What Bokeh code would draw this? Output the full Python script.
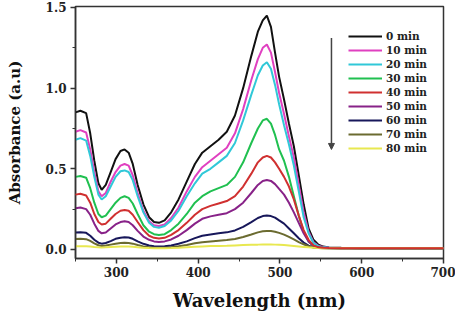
from bokeh.plotting import figure
from bokeh.models import (Range1d, FixedTicker, Legend, LegendItem, Arrow,
                          NormalHead, NumeralTickFormatter)
from bokeh.embed import file_html
from bokeh.resources import INLINE

# ---------------- data ----------------
wavelength = [250, 256, 263, 268, 273, 278, 282, 287, 293, 299,
              305, 310, 315, 320, 326, 333, 340, 346, 352, 359,
              367, 376, 386, 396, 405, 415, 425, 435, 445, 455,
              465, 473, 479, 484, 489, 494, 499, 505, 511, 517,
              523, 529, 535, 541, 547, 553, 560, 575, 600, 650,
              700]

labels = ["0 min", "10 min", "20 min", "30 min", "40 min",
          "50 min", "60 min", "70 min", "80 min"]
colors = ["#111111", "#e040c0", "#30c8d8", "#20c050", "#d03030",
          "#882288", "#17175a", "#6b6b30", "#e8e850"]

a_0min = [0.85, 0.86, 0.845, 0.72, 0.55, 0.41, 0.37, 0.40, 0.48, 0.56,
          0.61, 0.62, 0.60, 0.53, 0.40, 0.28, 0.20, 0.17, 0.165, 0.18,
          0.23, 0.31, 0.42, 0.53, 0.60, 0.64, 0.68, 0.73, 0.83, 1.00,
          1.20, 1.35, 1.42, 1.45, 1.38, 1.22, 1.07, 0.93, 0.78, 0.64,
          0.46, 0.28, 0.13, 0.06, 0.03, 0.018, 0.012, 0.01, 0.008, 0.008,
          0.008]
a_10min = [0.73, 0.74, 0.725, 0.62, 0.48, 0.36, 0.33, 0.35, 0.42, 0.48,
           0.52, 0.53, 0.52, 0.46, 0.35, 0.24, 0.175, 0.15, 0.145, 0.155,
           0.195, 0.26, 0.36, 0.45, 0.51, 0.55, 0.59, 0.63, 0.72, 0.87,
           1.05, 1.18, 1.25, 1.27, 1.22, 1.10, 0.97, 0.84, 0.70, 0.57,
           0.40, 0.23, 0.11, 0.045, 0.022, 0.015, 0.01, 0.009, 0.008, 0.008,
           0.008]
a_20min = [0.68, 0.69, 0.675, 0.58, 0.45, 0.34, 0.31, 0.33, 0.39, 0.45,
           0.485, 0.49, 0.48, 0.43, 0.33, 0.23, 0.165, 0.14, 0.135, 0.145,
           0.18, 0.24, 0.33, 0.41, 0.47, 0.50, 0.54, 0.58, 0.66, 0.80,
           0.96, 1.08, 1.14, 1.16, 1.12, 1.02, 0.90, 0.77, 0.65, 0.52,
           0.36, 0.20, 0.10, 0.04, 0.02, 0.013, 0.01, 0.009, 0.008, 0.008,
           0.008]
a_30min = [0.45, 0.455, 0.445, 0.38, 0.29, 0.22, 0.20, 0.21, 0.25, 0.29,
           0.32, 0.33, 0.32, 0.285, 0.22, 0.15, 0.11, 0.095, 0.09, 0.095,
           0.12, 0.16, 0.22, 0.29, 0.33, 0.36, 0.38, 0.40, 0.45, 0.54,
           0.66, 0.75, 0.80, 0.81, 0.78, 0.71, 0.62, 0.55, 0.45, 0.33,
           0.21, 0.11, 0.05, 0.022, 0.012, 0.01, 0.009, 0.008, 0.008, 0.008,
           0.008]
a_40min = [0.34, 0.345, 0.335, 0.29, 0.22, 0.17, 0.155, 0.16, 0.19, 0.22,
           0.24, 0.245, 0.24, 0.215, 0.17, 0.12, 0.085, 0.072, 0.068, 0.072,
           0.09, 0.12, 0.165, 0.215, 0.25, 0.27, 0.285, 0.30, 0.33, 0.39,
           0.47, 0.54, 0.57, 0.58, 0.57, 0.54, 0.50, 0.45, 0.39, 0.31,
           0.21, 0.12, 0.06, 0.025, 0.013, 0.01, 0.009, 0.008, 0.008, 0.008,
           0.008]
a_50min = [0.255, 0.26, 0.25, 0.215, 0.16, 0.115, 0.10, 0.105, 0.13, 0.155,
           0.17, 0.175, 0.17, 0.15, 0.115, 0.08, 0.06, 0.05, 0.047, 0.05,
           0.062, 0.085, 0.12, 0.16, 0.19, 0.205, 0.215, 0.225, 0.25, 0.29,
           0.35, 0.40, 0.425, 0.43, 0.425, 0.405, 0.375, 0.34, 0.29, 0.23,
           0.165, 0.10, 0.05, 0.022, 0.012, 0.01, 0.009, 0.008, 0.008, 0.008,
           0.008]
a_60min = [0.105, 0.106, 0.103, 0.085, 0.06, 0.042, 0.036, 0.04, 0.052, 0.066,
           0.073, 0.075, 0.074, 0.066, 0.05, 0.035, 0.025, 0.02, 0.018, 0.02,
           0.025, 0.035, 0.05, 0.07, 0.085, 0.093, 0.10, 0.106, 0.118, 0.14,
           0.17, 0.195, 0.207, 0.21, 0.207, 0.197, 0.18, 0.16, 0.13, 0.10,
           0.07, 0.043, 0.024, 0.013, 0.01, 0.009, 0.008, 0.008, 0.008, 0.008,
           0.008]
a_70min = [0.065, 0.066, 0.064, 0.053, 0.038, 0.026, 0.022, 0.024, 0.03, 0.036,
           0.04, 0.041, 0.04, 0.036, 0.028, 0.019, 0.014, 0.011, 0.01, 0.011,
           0.014, 0.02, 0.028, 0.038, 0.045, 0.05, 0.054, 0.058, 0.065, 0.077,
           0.093, 0.106, 0.113, 0.115, 0.114, 0.11, 0.103, 0.092, 0.078, 0.062,
           0.046, 0.032, 0.02, 0.012, 0.009, 0.008, 0.008, 0.008, 0.008, 0.008,
           0.008]
a_80min = [0.02, 0.02, 0.02, 0.018, 0.015, 0.013, 0.012, 0.013, 0.015, 0.017,
           0.018, 0.018, 0.018, 0.017, 0.014, 0.011, 0.009, 0.008, 0.008, 0.008,
           0.009, 0.011, 0.014, 0.017, 0.019, 0.021, 0.022, 0.023, 0.025, 0.027,
           0.029, 0.03, 0.031, 0.031, 0.031, 0.03, 0.029, 0.027, 0.025, 0.022,
           0.019, 0.016, 0.013, 0.011, 0.009, 0.008, 0.008, 0.008, 0.008, 0.008,
           0.008]

series = [a_0min, a_10min, a_20min, a_30min, a_40min, a_50min, a_60min, a_70min, a_80min]

x_ticks = [300, 400, 500, 600, 700]
x_minor = [250, 350, 450, 550, 650]
y_ticks = [0.0, 0.5, 1.0, 1.5]
y_minor = [0.25, 0.75, 1.25]

FONT = "DejaVu Serif"

# ---------------- figure ----------------
p = figure(width=455, height=313, output_backend="svg", toolbar_location=None,
           x_range=Range1d(250, 700), y_range=Range1d(-0.056, 1.506),
           min_border_left=75, min_border_right=12, min_border_top=6, min_border_bottom=55)

p.xgrid.visible = False
p.ygrid.visible = False
p.background_fill_color = "white"
p.border_fill_color = "white"
p.outline_line_color = "#333333"
p.outline_line_width = 1.5

renderers = []
for vals, col in zip(series, colors):
    r = p.line(wavelength, vals, line_color=col, line_width=2)
    renderers.append(r)
# the 40 min trace sits on top in the baseline region
renderers[4].level = "overlay"

p.xaxis.ticker = FixedTicker(ticks=x_ticks, minor_ticks=x_minor)
p.yaxis.ticker = FixedTicker(ticks=y_ticks, minor_ticks=y_minor)
p.yaxis.formatter = NumeralTickFormatter(format="0.0")

for ax in (p.xaxis[0], p.yaxis[0]):
    ax.axis_line_color = "#333333"
    ax.axis_line_width = 1.5
    ax.major_tick_line_color = "#333333"
    ax.minor_tick_line_color = "#333333"
    ax.major_tick_line_width = 1.5
    ax.major_tick_in = 0
    ax.major_tick_out = 5
    ax.minor_tick_in = 0
    ax.minor_tick_out = 3
    ax.major_label_text_font = FONT
    ax.major_label_text_font_style = "bold"
    ax.major_label_text_font_size = "12px"
    ax.major_label_text_color = "#222222"
    ax.axis_label_text_font = FONT
    ax.axis_label_text_font_style = "bold"
    ax.axis_label_text_color = "#111111"

p.xaxis.axis_label = "Wavelength (nm)"
p.xaxis.axis_label_text_font_size = "18px"
p.xaxis.major_label_standoff = 3
p.xaxis.axis_label_standoff = 10

p.yaxis.axis_label = "Absorbance (a.u)"
p.yaxis.axis_label_text_font_size = "15px"
p.yaxis.major_label_standoff = 4
p.yaxis.axis_label_standoff = 19

# legend
items = [LegendItem(label=lab, renderers=[r]) for lab, r in zip(labels, renderers)]
legend = Legend(items=items, location=(273, 103), glyph_width=34, glyph_height=14,
                label_height=14, label_standoff=4, spacing=0, padding=0, margin=0,
                border_line_alpha=0, background_fill_alpha=0,
                label_text_font=FONT, label_text_font_style="bold",
                label_text_font_size="10.5px", label_text_color="#222222")
p.add_layout(legend)

# downward arrow beside the legend
p.add_layout(Arrow(end=NormalHead(size=6, fill_color="#444444", line_color="#444444"),
                   x_start=563, y_start=1.31, x_end=563, y_end=0.62,
                   line_color="#444444", line_width=1.5))

open("out.html", "w").write(file_html(p, INLINE))
